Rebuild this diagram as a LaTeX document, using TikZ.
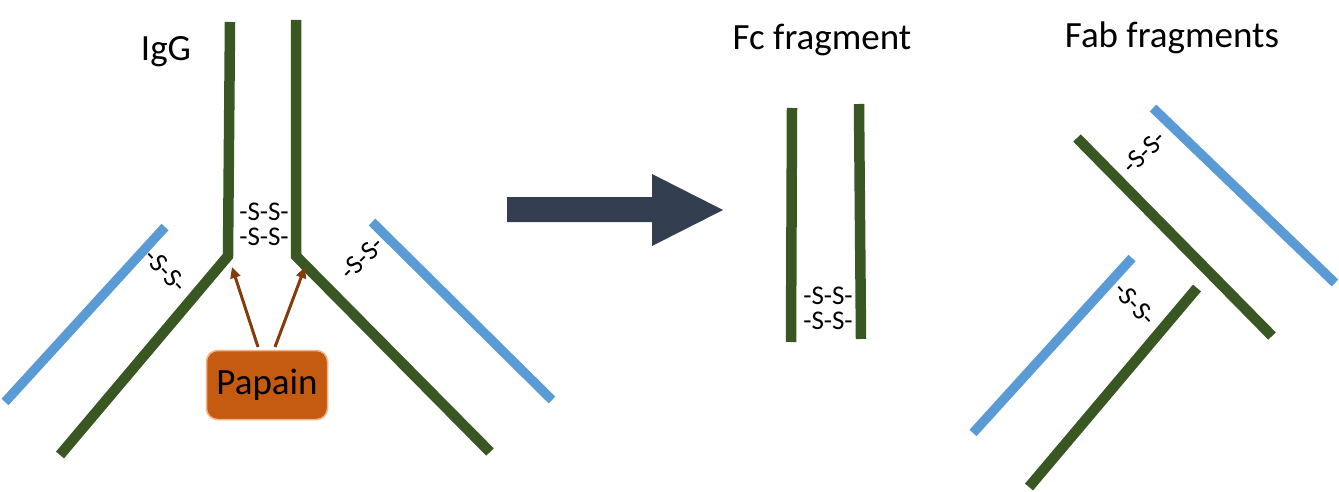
\documentclass[tikz,border=0pt]{standalone}
\usepackage{fontspec}
\setmainfont{Carlito}
\usetikzlibrary{arrows.meta}
\definecolor{chaingreen}{HTML}{385723}
\definecolor{chainblue}{HTML}{5B9BD5}
\definecolor{papainfill}{HTML}{C55A11}
\definecolor{papainedge}{HTML}{F4B183}
\definecolor{cutbrown}{HTML}{843C0C}
\definecolor{bigarrow}{HTML}{333F50}
\tikzset{
  heavy/.style={draw=chaingreen, line width=10.5pt, miter limit=10},
  light/.style={draw=chainblue, line width=9.5pt},
  ssbond/.style={font=\fontsize{27}{28}\selectfont, inner sep=0pt},
  title/.style={font=\fontsize{37}{39}\selectfont, inner sep=0pt},
  cutarrow/.style={draw=cutbrown, line width=3pt, -{Triangle[length=11pt,width=10pt]}},
}

\begin{document}
\begin{tikzpicture}[x=1pt,y=-1pt]
\useasboundingbox (0,0) rectangle (1339,492);
% IgG molecule
\draw[heavy] (230,22) -- (228,256) -- (60,455);
\draw[heavy] (296,20) -- (296,256) -- (490,452);
\draw[light] (165,227) -- (5,402);
\draw[light] (372,222) -- (552,400);
\node[title] (igg) at (166,52) {IgG};
\node[ssbond] (ssA) at (264,212) {-S-S-};
\node[ssbond] (ssB) at (264,237) {-S-S-};
\node[ssbond, rotate=-47] (ssC) at (166,271) {-S-S-};
\node[ssbond, rotate=45] (ssD) at (362,258) {-S-S-};
\node[fill=papainfill, draw=papainedge, line width=1.5pt, rounded corners=11pt,
      minimum width=121pt, minimum height=69pt, font=\fontsize{37}{39}\selectfont]
      (papain) at (267,385) {Papain};
\coordinate (cutL) at (258,347);
\coordinate (cutR) at (275,347);
\coordinate (hingeL) at (232,267);
\coordinate (hingeR) at (305,267);
\draw[cutarrow] (cutL) -- (hingeL);
\draw[cutarrow] (cutR) -- (hingeR);
% arrow
\fill[bigarrow] (507,197) -- (652,197) -- (652,174) -- (723,210) -- (652,246)
  -- (652,222) -- (507,222) -- cycle;
% Fc fragment
\node[title] (fc) at (822,40) {Fc fragment};
\draw[heavy] (792,108) -- (791,342);
\draw[heavy] (859,104) -- (861,339);
\node[ssbond] (ssE) at (828,296) {-S-S-};
\node[ssbond] (ssF) at (828,321) {-S-S-};
% Fab fragments
\node[title] (fab) at (1172,38) {Fab fragments};
\draw[heavy] (1077,138) -- (1272,336);
\draw[light] (1153,108) -- (1335,283);
\node[ssbond, rotate=45] (ssG) at (1144,152) {-S-S-};
\draw[light] (1132,258) -- (973,433);
\draw[heavy] (1197,288) -- (1029,487);
\node[ssbond, rotate=-48] (ssH) at (1135,304) {-S-S-};
\end{tikzpicture}
\end{document}
